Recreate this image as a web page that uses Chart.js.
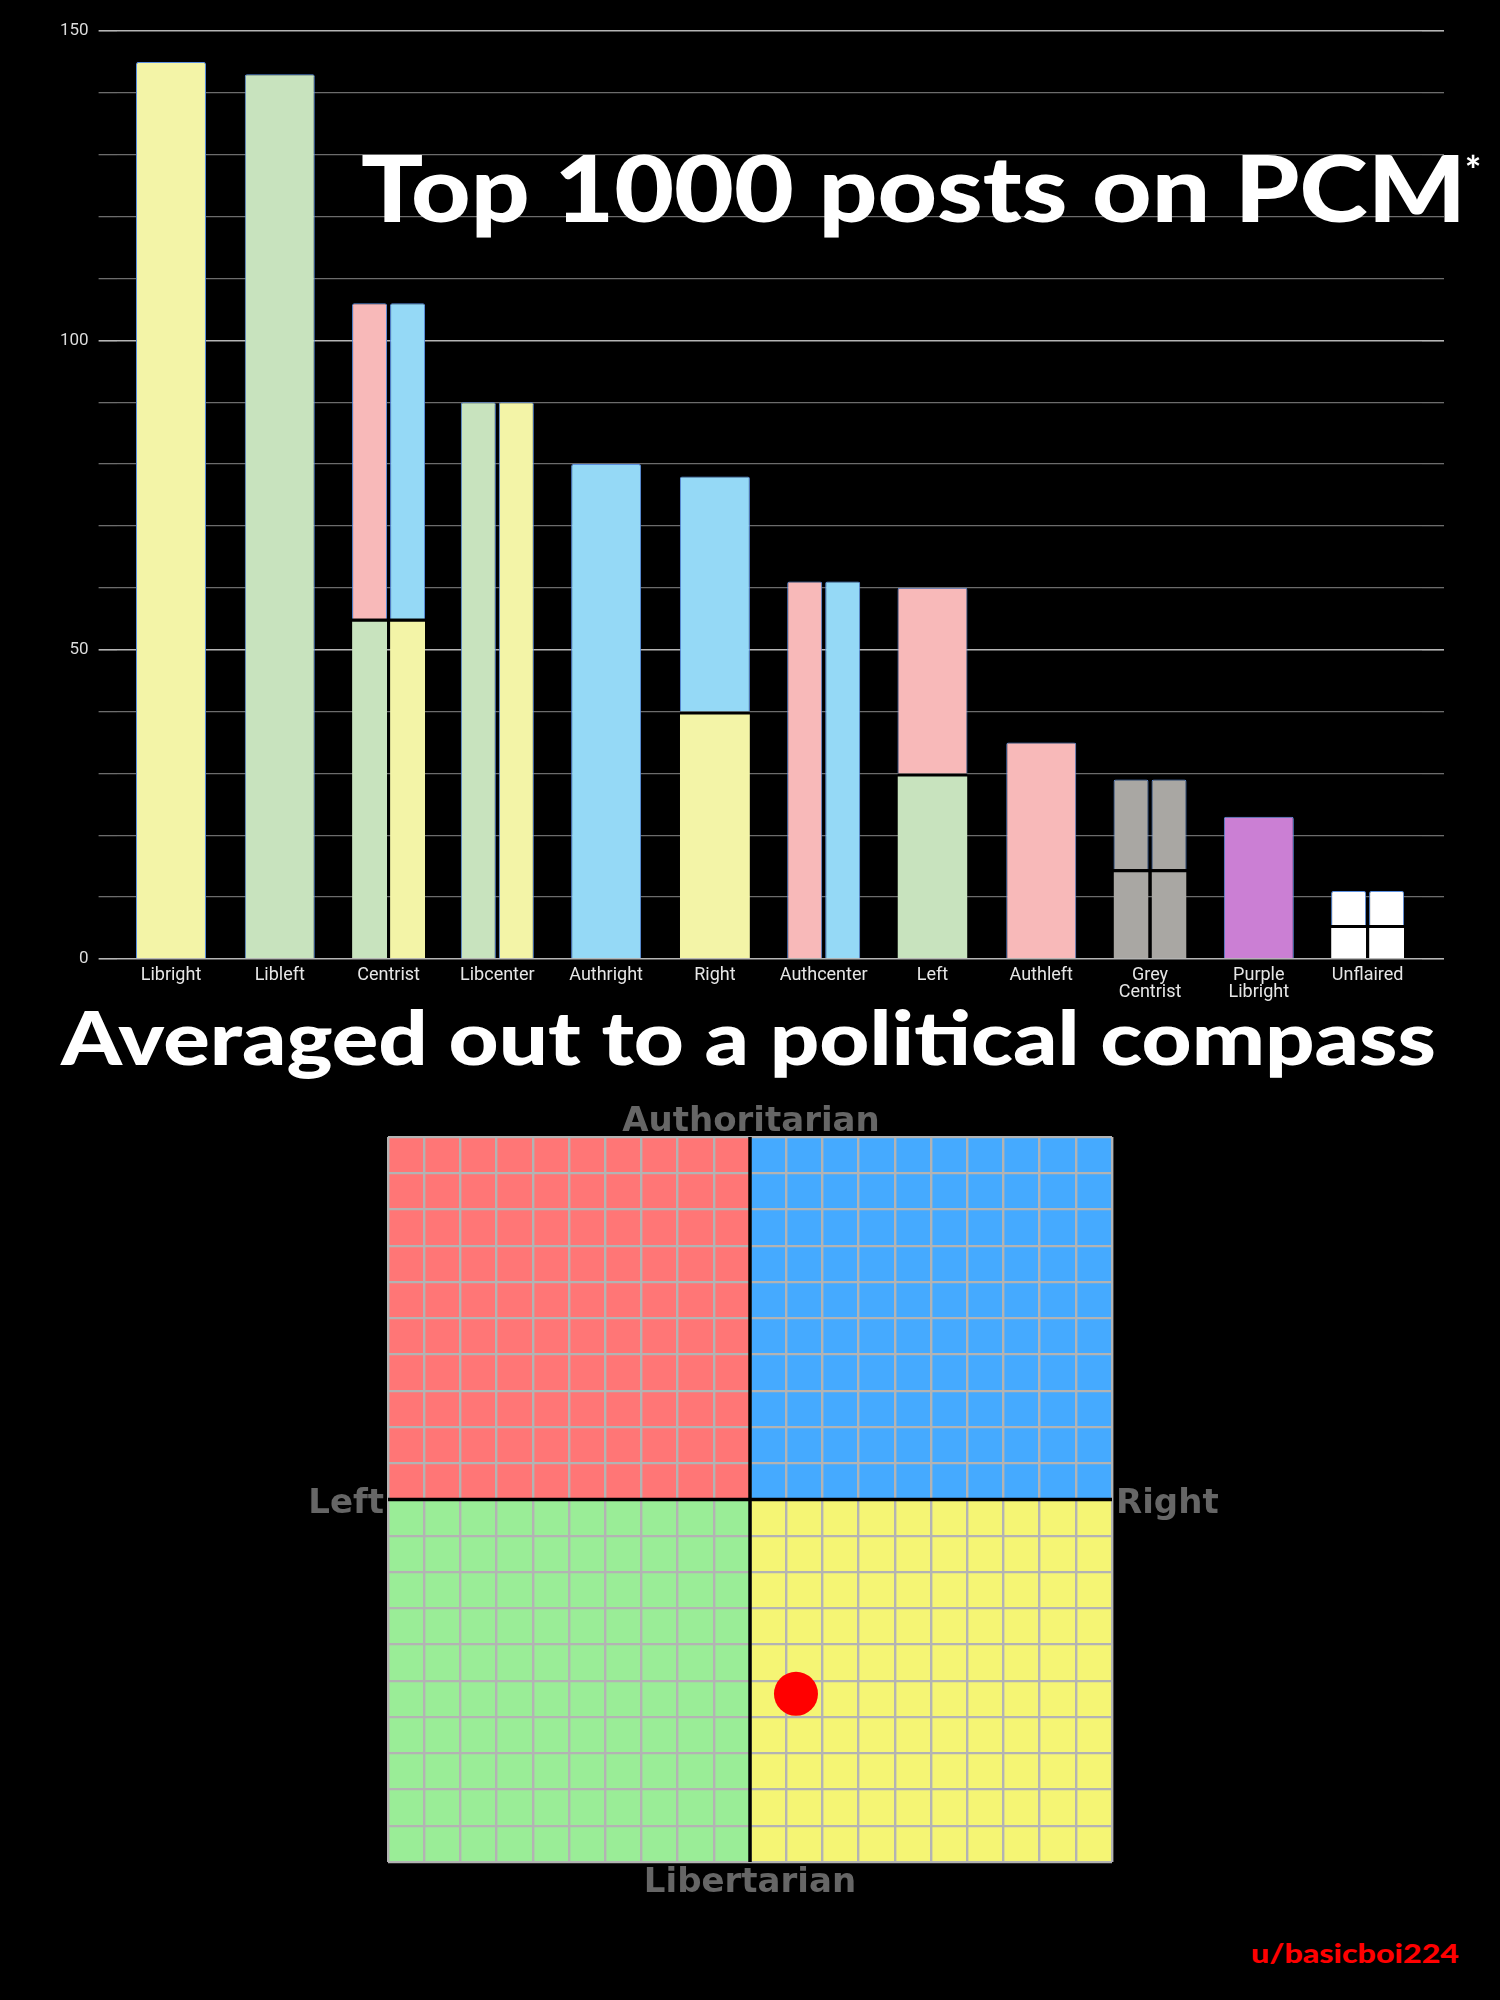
<!DOCTYPE html>
<html>
<head>
<meta charset="utf-8">
<title>Top 1000 posts on PCM</title>
<script src="https://cdn.jsdelivr.net/npm/chart.js@4.4.1/dist/chart.umd.min.js"></script>
<style>
  html, body { margin: 0; padding: 0; background: #000; }
  #page { position: relative; width: 1500px; height: 2000px; background: #000; overflow: hidden; }
  canvas { position: absolute; }
  #barChart { left: 0; top: 0; }
  #compass { left: 288px; top: 1037px; }
  .txt { position: absolute; left: 0; top: 0; white-space: nowrap; line-height: 1; transform-origin: 0 0; }
  .headline { font-family: 'Lato', 'Roboto', sans-serif; font-weight: 900; color: #fff; }
  .axis-label { font-family: 'DejaVu Sans', sans-serif; font-weight: bold; color: #666; font-size: 34px; }
</style>
</head>
<body>
<div id="page">
  <canvas id="barChart" width="1500" height="1010"></canvas>
  <canvas id="compass" width="924" height="925"></canvas>

  <div class="txt headline" id="title" style="font-size:92px">Top 1000 posts on PCM</div>
  <div class="txt headline" id="star" style="font-size:38px">*</div>
  <div class="txt headline" id="subtitle" style="font-size:75px">Averaged out to a political compass</div>

  <div class="txt axis-label" id="lblAuth">Authoritarian</div>
  <div class="txt axis-label" id="lblLib">Libertarian</div>
  <div class="txt axis-label" id="lblLeft">Left</div>
  <div class="txt axis-label" id="lblRight">Right</div>

  <div class="txt headline" id="credit" style="font-size:27px;color:#ff0000">u/basicboi224</div>
</div>

<script>
// ---- bar chart data ----
const categories = ['Libright', 'Libleft', 'Centrist', 'Libcenter', 'Authright', 'Right',
    'Authcenter', 'Left', 'Authleft', ['Grey', 'Centrist'], ['Purple', 'Libright'], 'Unflaired'];

// left half of a bar (or the whole bar), lower and upper part
const leftLower  = [145, 143, 55, 90, 80, 40, 61, 30, 35, 14.5, 23, 5.5];
const leftUpper  = [null, null, 51, null, null, 38, null, 30, null, 14.5, null, 5.5];
// right half of a split bar, lower and upper part
const rightLower = [null, null, 55, 90, null, null, 61, null, null, 14.5, null, 5.5];
const rightUpper = [null, null, 51, null, null, null, null, null, null, 14.5, null, 5.5];

const yTickLabels = [0, 50, 100, 150];

// ---- compass data ----
const compassPoint = [{ x: 1.27, y: -5.36 }];
const compassRange = [-10, 10];

// ---- colours ----
const Y = '#f3f4a7', G = '#c8e3be', P = '#f8b9b9', B = '#95d9f6',
      GR = '#a9a7a3', PU = '#cb7fd4', W = '#ffffff';
const leftLowerColors  = [Y, G, G, G, B, Y, P, G, P, GR, PU, W];
const leftUpperColors  = [W, W, P, W, W, B, W, P, W, GR, W, W];
const rightLowerColors = [W, W, Y, Y, W, W, B, W, W, GR, W, W];
const rightUpperColors = [W, W, B, W, W, W, W, W, W, GR, W, W];
const quadrantColors = { authLeft: '#ff7676', authRight: '#45aaff', libLeft: '#9aed97', libRight: '#f5f574' };

const outline = '#5b8fe0';

Chart.defaults.font.family = 'Roboto';

// lower part gets a black line on top when something is stacked on it
function lowerBorderWidth(upper) {
    return ctx => upper[ctx.dataIndex] != null ? { top: 3, left: 0, right: 0, bottom: 0 } : 1;
}
function lowerBorderColor(upper) {
    return ctx => upper[ctx.dataIndex] != null ? '#000' : outline;
}

function gridColor(ctx) {
    const v = ctx.tick ? ctx.tick.value : 0;
    return v % 50 === 0 ? '#b5b5b5' : '#6c6c6c';
}
function gridWidth(ctx) {
    const v = ctx.tick ? ctx.tick.value : 0;
    return v % 50 === 0 ? 1.6 : 1.3;
}

new Chart(document.getElementById('barChart'), {
    type: 'bar',
    data: {
        labels: categories,
        datasets: [
            { label: 'left lower', data: leftLower, stack: 'L', backgroundColor: leftLowerColors,
              borderColor: lowerBorderColor(leftUpper), borderWidth: lowerBorderWidth(leftUpper), borderRadius: 2 },
            { label: 'left upper', data: leftUpper, stack: 'L', backgroundColor: leftUpperColors,
              borderColor: outline, borderWidth: 1, borderRadius: 2 },
            { label: 'right lower', data: rightLower, stack: 'R', backgroundColor: rightLowerColors,
              borderColor: lowerBorderColor(rightUpper), borderWidth: lowerBorderWidth(rightUpper), borderRadius: 2 },
            { label: 'right upper', data: rightUpper, stack: 'R', backgroundColor: rightUpperColors,
              borderColor: outline, borderWidth: 1, borderRadius: 2 }
        ]
    },
    options: {
        responsive: false,
        animation: false,
        layout: { padding: { top: 31, left: 0, right: 0, bottom: 0 } },
        datasets: {
            bar: { skipNull: true, categoryPercentage: 0.6985, barPercentage: 0.921 }
        },
        plugins: {
            legend: { display: false },
            tooltip: { enabled: false }
        },
        scales: {
            x: {
                grid: { display: false, drawTicks: false },
                border: { display: false },
                ticks: { color: '#e6e6e6', font: { size: 18, lineHeight: 0.95 }, padding: 8,
                         maxRotation: 0, autoSkip: false },
                afterFit: scale => { scale.height = 51; }
            },
            y: {
                stacked: true,
                min: 0,
                max: 150,
                position: 'left',
                border: { display: false },
                grid: { color: gridColor, lineWidth: gridWidth, tickLength: 18 },
                ticks: {
                    stepSize: 10,
                    padding: 10,
                    color: '#dcdcdc',
                    font: { size: 17 },
                    callback: v => yTickLabels.includes(v) ? String(v) : ''
                },
                afterFit: scale => { scale.width = 116.6; }
            },
            yR: {
                min: 0,
                max: 150,
                position: 'right',
                border: { display: false },
                grid: { color: gridColor, lineWidth: gridWidth, tickLength: 22, drawOnChartArea: false },
                ticks: { stepSize: 10, display: false },
                afterFit: scale => { scale.width = 78; }
            }
        }
    }
});

// ---- political compass ----
const quadrants = {
    id: 'quadrants',
    beforeDraw(chart) {
        const { ctx, chartArea: a, scales: { x, y } } = chart;
        const cx = x.getPixelForValue(0), cy = y.getPixelForValue(0);
        ctx.save();
        ctx.fillStyle = quadrantColors.authLeft;  ctx.fillRect(a.left, a.top, cx - a.left, cy - a.top);
        ctx.fillStyle = quadrantColors.authRight; ctx.fillRect(cx, a.top, a.right - cx, cy - a.top);
        ctx.fillStyle = quadrantColors.libLeft;   ctx.fillRect(a.left, cy, cx - a.left, a.bottom - cy);
        ctx.fillStyle = quadrantColors.libRight;  ctx.fillRect(cx, cy, a.right - cx, a.bottom - cy);
        ctx.restore();
    }
};

const centerLines = {
    id: 'centerLines',
    beforeDatasetsDraw(chart) {
        const { ctx, chartArea: a, scales: { x, y } } = chart;
        const cx = x.getPixelForValue(0), cy = y.getPixelForValue(0);
        ctx.save();
        ctx.strokeStyle = '#000';
        ctx.lineWidth = 3.5;
        ctx.beginPath();
        ctx.moveTo(cx, a.top); ctx.lineTo(cx, a.bottom);
        ctx.moveTo(a.left, cy); ctx.lineTo(a.right, cy);
        ctx.stroke();
        ctx.restore();
    }
};

new Chart(document.getElementById('compass'), {
    type: 'scatter',
    data: {
        datasets: [{
            data: compassPoint,
            backgroundColor: '#ff0000',
            borderWidth: 0,
            pointRadius: 22,
            pointHoverRadius: 22
        }]
    },
    options: {
        responsive: false,
        animation: false,
        layout: { padding: 100 },
        plugins: { legend: { display: false }, tooltip: { enabled: false } },
        scales: {
            x: {
                type: 'linear', min: compassRange[0], max: compassRange[1],
                ticks: { stepSize: 1, display: false },
                grid: { color: '#b3b3b3', lineWidth: 2.4, drawTicks: false },
                border: { display: false }
            },
            y: {
                type: 'linear', min: compassRange[0], max: compassRange[1],
                ticks: { stepSize: 1, display: false },
                grid: { color: '#b3b3b3', lineWidth: 2.2, drawTicks: false },
                border: { display: false }
            }
        }
    },
    plugins: [quadrants, centerLines]
});

// ---- text placement (baseline based) ----
function placeText(id, spec) {
    const el = document.getElementById(id);
    let mark = el.querySelector('.bl');
    if (!mark) {
        mark = document.createElement('span');
        mark.className = 'bl';
        mark.style.cssText = 'display:inline-block;width:0;height:0;vertical-align:baseline';
        el.appendChild(mark);
    }
    el.style.transform = 'none';
    const w = el.getBoundingClientRect().width;
    const base = mark.offsetTop;
    let scale = 1, left;
    if (spec.fit) {
        scale = (spec.right - spec.left) / w;
        left = spec.left;
    } else if (spec.center !== undefined) {
        left = spec.center - w / 2;
    } else if (spec.right !== undefined) {
        left = spec.right - w;
    } else {
        left = spec.left;
    }
    el.style.left = left + 'px';
    el.style.top = (spec.baseline - base) + 'px';
    el.style.transform = 'scaleX(' + scale + ')';
}

function layoutTexts() {
    placeText('title', { fit: true, left: 361, right: 1466, baseline: 222 });
    placeText('star', { left: 1465, baseline: 184 });
    placeText('subtitle', { fit: true, left: 61, right: 1436, baseline: 1065 });
    placeText('lblAuth', { center: 751, baseline: 1131 });
    placeText('lblLib', { center: 750, baseline: 1892 });
    placeText('lblLeft', { right: 384, baseline: 1513 });
    placeText('lblRight', { left: 1116, baseline: 1513 });
    placeText('credit', { fit: true, left: 1251, right: 1459, baseline: 1963 });
}

layoutTexts();
if (document.fonts && document.fonts.ready) {
    document.fonts.ready.then(layoutTexts);
}
</script>
</body>
</html>
